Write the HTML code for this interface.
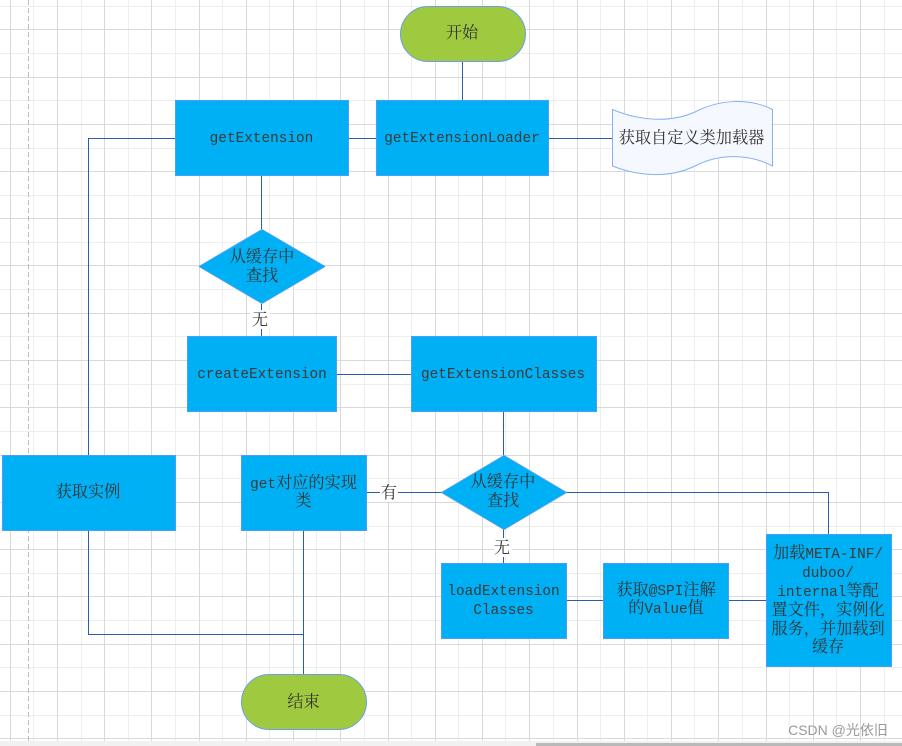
<!DOCTYPE html>
<html><head><meta charset="utf-8">
<style>
html,body{margin:0;padding:0;background:#fff;width:902px;height:746px;overflow:hidden}
svg{display:block}
text{font-family:"Liberation Mono","Noto Serif CJK SC",monospace;font-size:16.2px;fill:#333;text-anchor:middle}
.m{font-size:14.4px;fill:#3a3a3a}
.box{fill:#00b0f4;stroke:#4a9dfa;stroke-width:1}
.dia{fill:#00b0f4;stroke:#4a9dfa;stroke-width:1;stroke-linejoin:bevel}
.term{fill:#9fca40;stroke:#6a9fe8;stroke-width:1}
.ln{fill:none;stroke:#2a5caa;stroke-width:1;shape-rendering:crispEdges}
</style></head><body>
<svg width="902" height="746" viewBox="0 0 902 746" xmlns="http://www.w3.org/2000/svg">
<rect width="902" height="746" fill="#fff"/>
<path shape-rendering="crispEdges" fill="none" stroke="#eeeeee" stroke-width="1" d="M33.5 0V741M81.5 0V741M128.5 0V741M175.5 0V741M222.5 0V741M269.5 0V741M316.5 0V741M364.5 0V741M411.5 0V741M458.5 0V741M505.5 0V741M553.5 0V741M600.5 0V741M647.5 0V741M694.5 0V741M742.5 0V741M789.5 0V741M836.5 0V741M884.5 0V741M0 6.5H902M0 53.5H902M0 100.5H902M0 148.5H902M0 195.5H902M0 242.5H902M0 289.5H902M0 336.5H902M0 384.5H902M0 431.5H902M0 478.5H902M0 526.5H902M0 573.5H902M0 620.5H902M0 667.5H902M0 715.5H902"/>
<path shape-rendering="crispEdges" fill="none" stroke="#d9d9d9" stroke-width="1" d="M10.5 0V741M57.5 0V741M104.5 0V741M151.5 0V741M199.5 0V741M246.5 0V741M293.5 0V741M340.5 0V741M388.5 0V741M435.5 0V741M482.5 0V741M529.5 0V741M577.5 0V741M624.5 0V741M671.5 0V741M718.5 0V741M766.5 0V741M813.5 0V741M860.5 0V741M0 29.5H902M0 77.5H902M0 124.5H902M0 171.5H902M0 218.5H902M0 265.5H902M0 313.5H902M0 360.5H902M0 407.5H902M0 455.5H902M0 502.5H902M0 549.5H902M0 596.5H902M0 644.5H902M0 691.5H902M0 738.5H902"/>
<path d="M28.5 0V741" stroke="#bbbbbb" stroke-width="1" stroke-dasharray="5 3" fill="none" shape-rendering="crispEdges"/>
<rect x="0" y="741" width="902" height="5" fill="#f1f1f1"/>
<rect x="536" y="743" width="366" height="3" fill="#b9b9b9"/>

<path class="ln" d="M462.5 62V100M175 138.5H88.5V455M349 138.5H376M549 138.5H612M261.5 176V229M261.5 304V336M337 374.5H411M503.5 412V455M367 492.5H442M566 492.5H828.5V534M503.5 529V563M567 600.5H603M729 600.5H766M303.5 531V674M88.5 531V634.5H303.5"/>

<rect class="term" x="400.5" y="6.5" width="125" height="55" rx="27.5"/>
<rect class="term" x="241.5" y="674.5" width="125" height="55" rx="27.5"/>

<rect class="box" x="175.5" y="100.5" width="173" height="75"/>
<rect class="box" x="376.5" y="100.5" width="172" height="75"/>
<rect class="box" x="187.5" y="336.5" width="149" height="75"/>
<rect class="box" x="411.5" y="336.5" width="185" height="75"/>
<rect class="box" x="2.5" y="455.5" width="173" height="75"/>
<rect class="box" x="241.5" y="455.5" width="125" height="75"/>
<rect class="box" x="441.5" y="563.5" width="125" height="75"/>
<rect class="box" x="603.5" y="563.5" width="125" height="75"/>
<rect class="box" x="766.5" y="534.5" width="125" height="132"/>

<polygon class="dia" points="262,229.5 325,266.5 262,303.5 199,266.5"/>
<polygon class="dia" points="504,455.5 566.5,492.5 504,529.5 441.5,492.5"/>

<path d="M612.5 109.5C640 121 670 123 695 112C720 99 750 98 772.5 109.5V166C750 154 720 153 695 166C670 178 640 177 612.5 166Z" fill="#f5f8ff" stroke="#86aff5" stroke-width="1"/>

<rect x="250" y="310" width="20" height="19" fill="#fff"/>
<rect x="380" y="483" width="18" height="19" fill="#fff"/>
<rect x="494" y="538" width="18" height="19" fill="#fff"/>

<text x="462" y="38">开始</text>
<text x="303.500" y="707">结束</text>
<text x="261.500" y="142" class="m">getExtension</text>
<text x="462" y="142" class="m">getExtensionLoader</text>
<text x="691.500" y="143">获取自定义类加载器</text>
<text x="262" y="262">从缓存中</text>
<text x="262" y="281">查找</text>
<text x="260" y="325">无</text>
<text x="262" y="378" class="m">createExtension</text>
<text x="503" y="378" class="m">getExtensionClasses</text>
<text x="88" y="497">获取实例</text>
<text x="303.500" y="488"><tspan class="m">get</tspan>对应的实现</text>
<text x="303.500" y="506">类</text>
<text x="389" y="498">有</text>
<text x="503" y="487">从缓存中</text>
<text x="503" y="506">查找</text>
<text x="502" y="553">无</text>
<text x="503.500" y="595" class="m">loadExtension</text>
<text x="503.500" y="614" class="m">Classes</text>
<text x="666" y="595">获取<tspan class="m">@SPI</tspan>注解</text>
<text x="666" y="613">的<tspan class="m">Value</tspan>值</text>
<text x="828" y="558">加载<tspan class="m">META-INF/</tspan></text>
<text x="828" y="577" class="m">duboo/</text>
<text x="828" y="596"><tspan class="m">internal</tspan>等配</text>
<text x="828" y="615">置文件，实例化</text>
<text x="828" y="634">服务，并加载到</text>
<text x="828" y="652">缓存</text>

<text x="838" y="735" style="font-family:'Liberation Sans','Noto Sans CJK SC',sans-serif;font-size:14px;fill:#9a9a9a">CSDN @光依旧</text>
</svg>
</body></html>
